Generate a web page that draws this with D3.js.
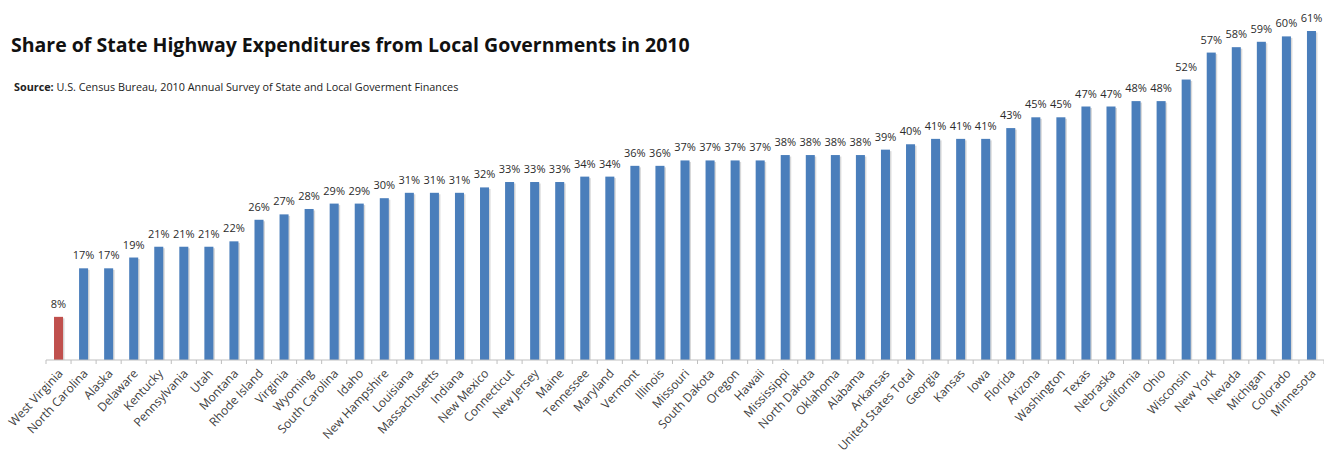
<!DOCTYPE html>
<meta charset="utf-8">
<style>
    body { margin: 0; background: #fff; }
    text { font-family: "Open Sans", Lato, sans-serif; fill: #404040; }
    .title { font-weight: bold; font-size: 19.5px; fill: #111; }
    .source { font-size: 10.8px; fill: #222; }
    .val { font-size: 11px; text-anchor: middle; fill: #2b2b2b; }
    .tick text { font-size: 12px; fill: #404040; }
</style>
<body>
<script src="https://cdn.jsdelivr.net/npm/d3@7"></script>
<script>

    var width = 1324,
        height = 455;

    var states = ["West Virginia", "North Carolina", "Alaska", "Delaware", "Kentucky", "Pennsylvania",
        "Utah", "Montana", "Rhode Island", "Virginia", "Wyoming", "South Carolina", "Idaho",
        "New Hampshire", "Louisiana", "Massachusetts", "Indiana", "New Mexico", "Connecticut",
        "New Jersey", "Maine", "Tennessee", "Maryland", "Vermont", "Illinois", "Missouri",
        "South Dakota", "Oregon", "Hawaii", "Mississippi", "North Dakota", "Oklahoma", "Alabama",
        "Arkansas", "United States Total", "Georgia", "Kansas", "Iowa", "Florida", "Arizona",
        "Washington", "Texas", "Nebraska", "California", "Ohio", "Wisconsin", "New York",
        "Nevada", "Michigan", "Colorado", "Minnesota"];

    // percent share from local governments
    var shares = [8, 17, 17, 19, 21, 21, 21, 22, 26, 27, 28, 29, 29, 30, 31, 31, 31, 32, 33, 33,
        33, 34, 34, 36, 36, 37, 37, 37, 37, 38, 38, 38, 38, 39, 40, 41, 41, 41, 43, 45, 45, 47,
        47, 48, 48, 52, 57, 58, 59, 60, 61];

    var highlight = ["West Virginia"];

    var x = d3.scaleBand()
        .domain(states)
        .range([46, 1324])
        .paddingInner(0.64)
        .paddingOuter(0.32);

    var y = d3.scaleLinear()
        .domain([0, 61])
        .range([360, 31]);

    var svg = d3.select("body").append("svg")
        .attr("width", width)
        .attr("height", height);

    svg.append("text")
        .attr("class", "title")
        .attr("x", 11)
        .attr("y", 52)
        .text("Share of State Highway Expenditures from Local Governments in 2010");

    var src = svg.append("text")
        .attr("class", "source")
        .attr("x", 14)
        .attr("y", 91);
    src.append("tspan").style("font-weight", "bold").text("Source:");
    src.append("tspan").text(" U.S. Census Bureau, 2010 Annual Survey of State and Local Goverment Finances");

    var data = states.map(function(s, i) { return {state: s, value: shares[i]}; });

    // soft shadow behind the bars
    svg.selectAll("rect.shadow")
        .data(data)
        .enter().append("rect")
        .attr("class", "shadow")
        .attr("x", function(d) { return x(d.state) + 1.5; })
        .attr("y", function(d) { return y(d.value) + 1.5; })
        .attr("width", x.bandwidth())
        .attr("height", function(d) { return y(0) - y(d.value) - 1.5; })
        .style("fill", "#d9d9d9");

    svg.selectAll("rect.main")
        .data(data)
        .enter().append("rect")
        .attr("class", "main")
        .attr("x", function(d) { return x(d.state); })
        .attr("y", function(d) { return y(d.value); })
        .attr("width", x.bandwidth())
        .attr("height", function(d) { return y(0) - y(d.value); })
        .style("fill", function(d) { return highlight.indexOf(d.state) >= 0 ? "#c0504d" : "#4a7ebb"; });

    svg.selectAll("text.val")
        .data(data)
        .enter().append("text")
        .attr("class", "val")
        .attr("x", function(d) { return x(d.state) + x.bandwidth() / 2; })
        .attr("y", function(d) { return y(d.value) - 9; })
        .text(function(d) { return d.value + "%"; });

    var axis = svg.append("g")
        .attr("transform", "translate(0," + y(0) + ")")
        .call(d3.axisBottom(x).tickSize(0).tickPadding(0));

    axis.select(".domain").attr("stroke", "#bfbfbf").attr("d", "M46,0H1324");

    // tick marks sit between the categories
    axis.selectAll("line.sep")
        .data(states.concat(["end"]))
        .enter().append("line")
        .attr("class", "sep")
        .attr("x1", function(d, i) { return 46 + i * x.step(); })
        .attr("x2", function(d, i) { return 46 + i * x.step(); })
        .attr("y1", 0)
        .attr("y2", 4)
        .attr("stroke", "#bfbfbf");

    axis.selectAll(".tick text")
        .attr("text-anchor", "end")
        .attr("dy", 0)
        .attr("transform", "translate(5,14) rotate(-47)");

</script>
